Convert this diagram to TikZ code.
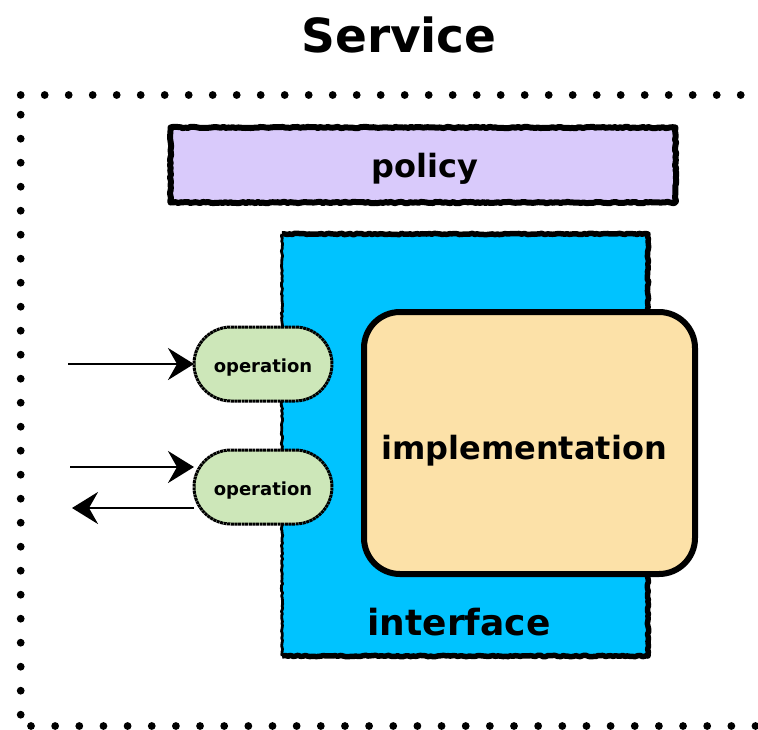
\documentclass[tikz,border=0pt]{standalone}
\usepackage{fontspec}
\setmainfont{DejaVu Sans}
\usetikzlibrary{arrows.meta,decorations.pathmorphing,calc}

\definecolor{ifaceblue}{HTML}{00C3FF}
\definecolor{policyfill}{HTML}{D9CAFB}
\definecolor{implfill}{HTML}{FCE1A8}
\definecolor{opfill}{HTML}{CDE7B9}

\begin{document}
\begin{tikzpicture}[x=1pt,y=-1pt,
  sketch/.style={decorate,decoration={random steps,segment length=2.5pt,amplitude=0.7pt},line join=round},
  txt/.style={font=\bfseries\fontsize{#1}{#1}\selectfont, anchor=base, inner sep=0pt, outer sep=0pt},
  plainbox/.style={rectangle, inner sep=0pt, outer sep=0pt},
  opbox/.style={plainbox, fill=opfill, draw=black, line width=3pt, rounded corners=37pt,
    dash pattern=on 3pt off 0.6pt, minimum width=138, minimum height=74},
  flow/.style={line width=2.8pt, -{Stealth[length=26pt,width=32pt,inset=9pt]}}]
\pgfmathsetseed{11}
\useasboundingbox (0,0) rectangle (758,729);

% dotted service boundary (top, left and bottom sides)
\foreach \i in {0,...,30} \fill (20.7+24*\i,95) circle (3.9);
\foreach \i in {0,...,25} \fill (20.7,114.7+24*\i) circle (3.9);
\foreach \i in {0,...,30} \fill (31+24.15*\i,726) circle (3.9);

% title
\node[txt=47] (title) at (399,52) {Service};

% policy bar
\node[plainbox, fill=policyfill, minimum width=505, minimum height=75] (policy) at (423,165) {};
\draw[sketch, line width=6pt] (policy.north west) rectangle (policy.south east);
\node[txt=32] (policytext) at (425,177) {policy};

% interface block
\node[plainbox, fill=ifaceblue, minimum width=366, minimum height=422] (iface) at (465,445) {};
\draw[sketch, line width=5.5pt] (iface.north west) -- (iface.north east) -- (iface.south east) -- (iface.south west);
\draw[sketch, line width=2.8pt] (iface.south west) -- (iface.north west);
\node[txt=36] (ifacetext) at (459,635) {interface};

% implementation block
\node[plainbox, fill=implfill, draw=black, line width=6pt, rounded corners=36pt,
  minimum width=331, minimum height=262] (impl) at (529.5,443) {};
\node[txt=32] (impltext) at (524,459) {implementation};

% operations
\node[opbox] (op1) at (263,364) {};
\node[txt=18] (op1text) at (263,372) {operation};
\node[opbox] (op2) at (263,487) {};
\node[txt=18] (op2text) at (263,495) {operation};

% message flows
\coordinate (src1) at (68,364);
\coordinate (src2) at (70,467);
\coordinate (dst3) at (72,508);
\draw[flow] (src1) -- (op1.west);
\draw[flow] (src2) -- (src2 -| op2.west);
\draw[flow] (dst3 -| op2.west) -- (dst3);
\end{tikzpicture}
\end{document}
